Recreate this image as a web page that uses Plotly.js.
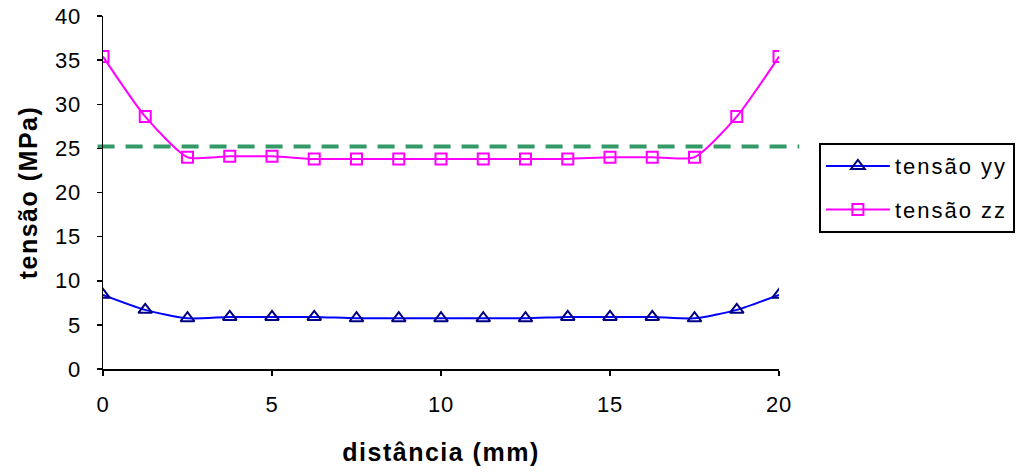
<!DOCTYPE html>
<html>
<head>
<meta charset="utf-8">
<script src="https://cdn.plot.ly/plotly-3.0.1.min.js"></script>
<style>
html,body{margin:0;padding:0;background:#fff;}
#chart{width:1032px;height:472px;}
.legendtext{letter-spacing:2px;}
.xtitle,.ytitle{letter-spacing:1.5px;}
.xtick text,.ytick text{letter-spacing:0.8px;}
</style>
</head>
<body>
<div id="chart"></div>
<script>
const distancia = [0, 1.25, 2.5, 3.75, 5, 6.25, 7.5, 8.75, 10, 11.25, 12.5, 13.75, 15, 16.25, 17.5, 18.75, 20];
const tensaoYY = [8.4, 6.7, 5.75, 5.9, 5.9, 5.9, 5.75, 5.75, 5.75, 5.75, 5.75, 5.9, 5.9, 5.9, 5.75, 6.7, 8.4];
const tensaoZZ = [35.4, 28.6, 24.0, 24.1, 24.1, 23.8, 23.8, 23.8, 23.8, 23.8, 23.8, 23.8, 24.0, 24.0, 24.0, 28.6, 35.4];
const limite = 25.2;
const nomes = ["tensão yy", "tensão zz"];
const xTicks = [0, 5, 10, 15, 20];
const yTicks = [0, 5, 10, 15, 20, 25, 30, 35, 40];

const font = "Arial, 'Liberation Sans', sans-serif";

const traces = [
  {
    x: distancia, y: tensaoYY, name: nomes[0], legendgroup: "yy", type: "scatter", mode: "lines+markers",
    line: {color: "#0000FF", width: 2, shape: "spline", smoothing: 0.6},
    marker: {symbol: "triangle-up-open", size: 12, color: "#000080", line: {color: "#000080", width: 2}}
  },
  {
    x: distancia, y: tensaoZZ, name: nomes[1], legendgroup: "zz", type: "scatter", mode: "lines+markers",
    line: {color: "#FF00FF", width: 2, shape: "spline", smoothing: 0.6},
    marker: {symbol: "square-open", size: 11, color: "#FF00FF", line: {color: "#FF00FF", width: 2}}
  }
];

const layout = {
  width: 1032, height: 472,
  margin: {l: 103, r: 253, t: 16, b: 103, pad: 0},
  paper_bgcolor: "#ffffff", plot_bgcolor: "#ffffff",
  font: {family: font, size: 22, color: "#000"},
  showlegend: true,
  legend: {
    x: 1.059, y: 0.64, xanchor: "left", yanchor: "top",
    bordercolor: "#000", borderwidth: 2, bgcolor: "#fff",
    font: {family: font, size: 22, color: "#000"},
    itemwidth: 64,
    tracegroupgap: 12
  },
  xaxis: {
    range: [0, 20], tickvals: xTicks, ticktext: xTicks.map(String),
    showgrid: false, zeroline: false, showline: true, linecolor: "#000", linewidth: 1.5,
    ticks: "outside", ticklen: 5, tickcolor: "#000", tickwidth: 1.5,
    ticklabelstandoff: 10,
    tickfont: {family: font, size: 22},
    title: {text: "<b>distância (mm)</b>", font: {family: font, size: 25}, standoff: 27}
  },
  yaxis: {
    range: [0, 40], tickvals: yTicks, ticktext: yTicks.map(String),
    showgrid: false, zeroline: false, showline: true, linecolor: "#000", linewidth: 1.5,
    ticks: "outside", ticklen: 5, tickcolor: "#000", tickwidth: 1.5,
    ticklabelstandoff: 11,
    tickfont: {family: font, size: 22},
    title: {text: "<b>tensão (MPa)</b>", font: {family: font, size: 25}, standoff: 10}
  },
  shapes: [{
    type: "line", xref: "paper", yref: "y", x0: -0.008, x1: 1.03, y0: limite, y1: limite,
    line: {color: "#339966", width: 4, dash: "17px,11px"}, layer: "below"
  }]
};

Plotly.newPlot("chart", traces, layout, {displayModeBar: false, staticPlot: true});
</script>
</body>
</html>
